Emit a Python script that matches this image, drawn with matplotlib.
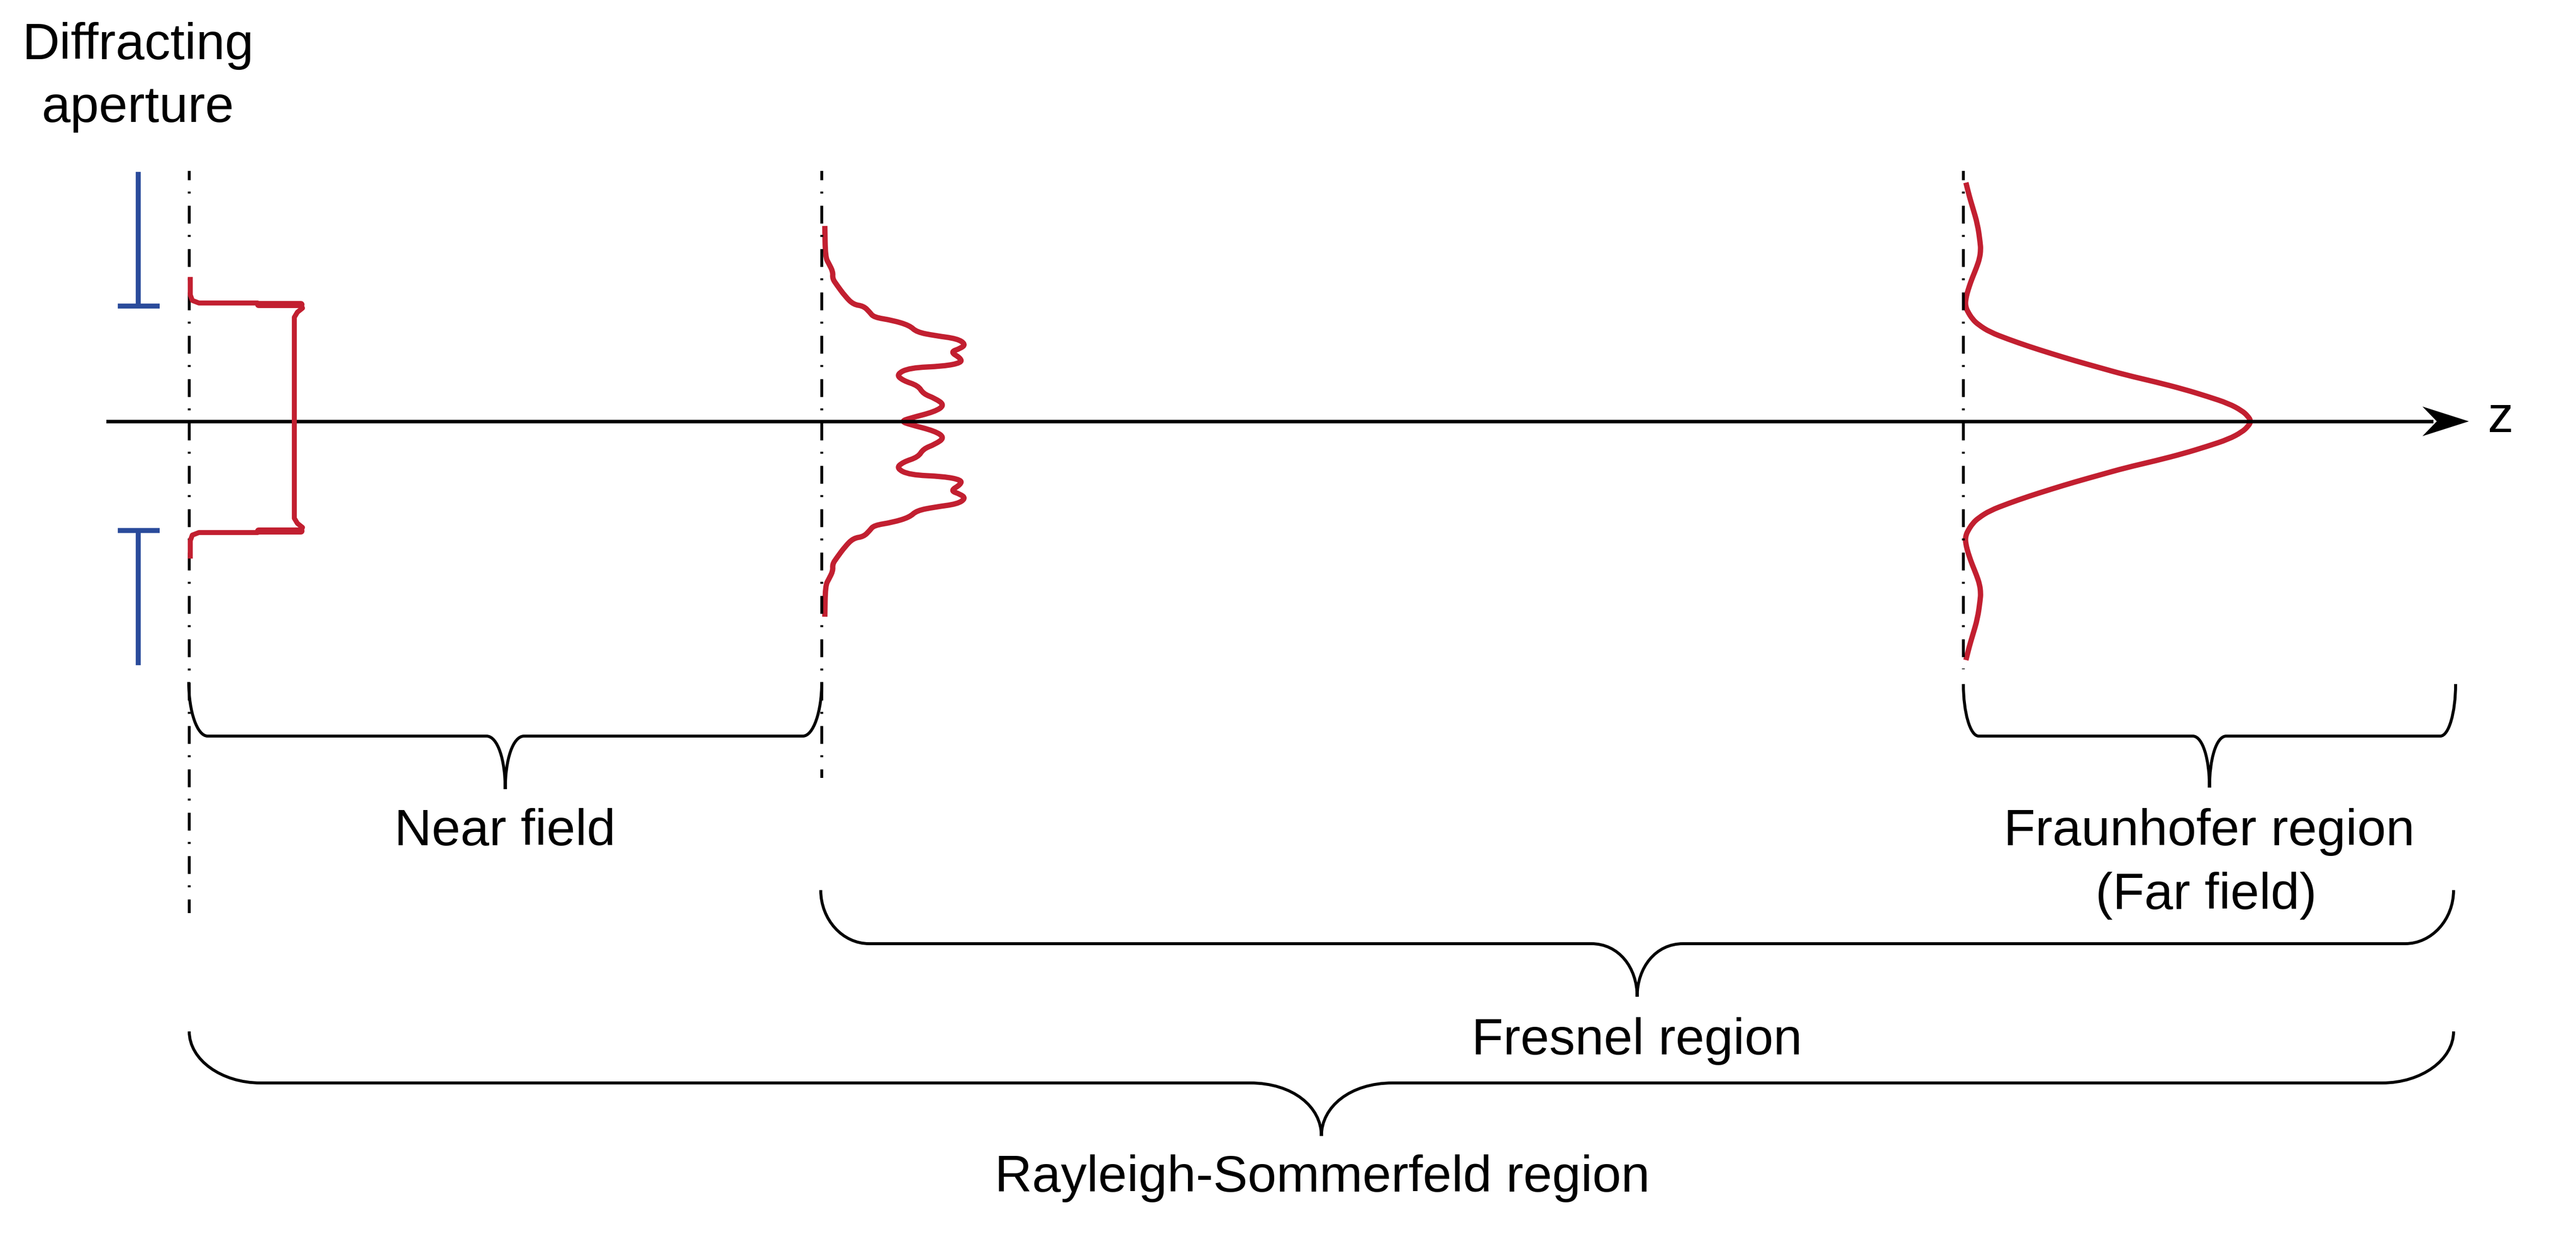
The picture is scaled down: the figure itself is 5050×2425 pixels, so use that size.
import matplotlib
matplotlib.use('Agg')
import matplotlib.pyplot as plt
from matplotlib.path import Path
from matplotlib.patches import PathPatch, Polygon

plt.rcParams['font.family'] = ['Liberation Sans', 'DejaVu Sans']

RED = '#C21F30'
BLUE = '#2A4B9B'
FS = 73

# positions along z (px in the 5050x2425 picture)
z_aperture = 371
z_fresnel = 1611
z_far = 3849
axis_y = 826

# aperture edges (blue stops)
aperture_edges = [600, 1040]
stop_top = 337
stop_bottom = 1304

# near-field profile (amplitude, position)
near_x = [373, 373, 377, 390, 505, 512, 590, 593, 583, 577, 577, 583, 593, 590, 512, 505, 390, 377, 373, 373]
near_y = [543, 578, 589, 594, 594, 598, 598, 604, 612, 622, 1016, 1026, 1034, 1040, 1040, 1044, 1044, 1049, 1060, 1095]

# Fresnel profile
fresnel_x = [1617, 1618, 1625, 1633, 1632, 1640, 1657, 1673, 1693, 1705, 1713, 1750, 1783, 1797, 1833, 1877,
             1893, 1883, 1863, 1883, 1885, 1850, 1783, 1757, 1770, 1800, 1810, 1833, 1852, 1833, 1783, 1767,
             1783, 1833, 1852, 1833, 1810, 1800, 1770, 1757, 1783, 1850, 1885, 1883, 1863, 1883, 1893,
             1877, 1833, 1797, 1783, 1750, 1713, 1705, 1693, 1673, 1657, 1640, 1632, 1633, 1625, 1618, 1617]
fresnel_y = [443, 504, 517, 533, 546, 558, 581, 597, 600, 612, 622, 628, 638, 651, 658, 664,
             675, 683, 690, 702, 711, 718, 721, 734, 746, 756, 772, 781, 794, 807, 820, 826,
             832, 845, 858, 871, 880, 896, 906, 918, 931, 934, 941, 950, 962, 969, 977,
             988, 994, 1001, 1014, 1024, 1030, 1040, 1052, 1055, 1071, 1094, 1106, 1119, 1135, 1148, 1209]

# Fraunhofer profile: offset from centre line, amplitude
far_dy = [-468, -440, -420, -386, -350, -337, -320, -302, -280, -266, -250, -240, -232, -224, -216, -200, -189, -175,
          -161, -147, -133, -119, -105, -91, -77, -63, -49, -35, -21, -10, 0,
          10, 21, 35, 49, 63, 77, 91, 105, 119, 133, 147, 161, 175, 189, 200, 216, 224, 232, 240,
          250, 266, 280, 302, 320, 337, 350, 386, 420, 440, 468]
far_amp = [5, 12, 18, 28, 33, 34, 32, 26, 17, 12, 7, 5, 4, 5, 8, 18, 30, 52,
           88, 128, 172, 218, 268, 318, 378, 432, 478, 520, 546, 558, 564,
           558, 546, 520, 478, 432, 378, 318, 268, 218, 172, 128, 88, 52, 30, 18, 8, 5, 4, 5,
           7, 12, 17, 26, 32, 34, 33, 28, 18, 12, 5]

# braces: left, right, top, bar, tip, corner width, cusp half width
braces = {
    'near': (370, 1611, 1337, 1443, 1547, 37, 37),
    'far': (3849, 4814, 1341, 1443, 1544, 30, 33),
    'fresnel': (1609, 4810, 1745, 1850, 1954, 95, 90),
    'rayleigh': (371, 4810, 2022, 2123, 2227, 140, 140),
}

labels = [
    ('Diffracting', 271, 116),
    ('aperture', 271, 239),
    ('Near field', 990, 1657),
    ('Fraunhofer region', 4331, 1657),
    ('(Far field)', 4325, 1782),
    ('Fresnel region', 3209, 2067),
    ('Rayleigh-Sommerfeld region', 2592, 2336),
    ('z', 4902, 847),
]


def brace_path(x0, x1, ytop, ybar, ytip, cw, hw):
    xm = (x0 + x1) / 2
    hb = ybar - ytop
    ht = ytip - ybar
    verts = [
        (x0, ytop), (x0, ytop + 0.55 * hb), (x0 + 0.45 * cw, ybar), (x0 + cw, ybar),
        (xm - hw, ybar),
        (xm - 0.4 * hw, ybar), (xm, ybar + 0.45 * ht), (xm, ytip),
        (xm, ybar + 0.45 * ht), (xm + 0.4 * hw, ybar), (xm + hw, ybar),
        (x1 - cw, ybar),
        (x1 - 0.45 * cw, ybar), (x1, ytop + 0.55 * hb), (x1, ytop),
    ]
    codes = [Path.MOVETO, Path.CURVE4, Path.CURVE4, Path.CURVE4,
             Path.LINETO,
             Path.CURVE4, Path.CURVE4, Path.CURVE4,
             Path.CURVE4, Path.CURVE4, Path.CURVE4,
             Path.LINETO,
             Path.CURVE4, Path.CURVE4, Path.CURVE4]
    return Path(verts, codes)


def smooth_path(xs, ys):
    # quadratic bezier through the midpoints, so the curve has no corners
    pts = list(zip(xs, ys))
    verts = [pts[0], ((pts[0][0] + pts[1][0]) / 2, (pts[0][1] + pts[1][1]) / 2)]
    codes = [Path.MOVETO, Path.LINETO]
    for i in range(1, len(pts) - 1):
        mid = ((pts[i][0] + pts[i + 1][0]) / 2, (pts[i][1] + pts[i + 1][1]) / 2)
        verts += [pts[i], mid]
        codes += [Path.CURVE3, Path.CURVE3]
    verts.append(pts[-1])
    codes.append(Path.LINETO)
    return Path(verts, codes)


fig = plt.figure(figsize=(50.5, 24.25), dpi=100)
ax = fig.add_axes([0, 0, 1, 1])
ax.set_xlim(0, 5050)
ax.set_ylim(2425, 0)
ax.axis('off')

# dash-dot planes
dashdot = (3, (6.3, 4.0, 0.7, 4.3))
ax.plot([z_aperture, z_aperture], [335, 1790], color='black', lw=4, ls=dashdot, dash_capstyle='butt')
ax.plot([z_fresnel, z_fresnel], [335, 1525], color='black', lw=4, ls=dashdot, dash_capstyle='butt')
ax.plot([z_far, z_far], [335, 1312], color='black', lw=4, ls=dashdot, dash_capstyle='butt')

# optical axis with arrow
ax.plot([208, 4770], [axis_y, axis_y], color='black', lw=5, solid_capstyle='butt')
ax.add_patch(Polygon([(4840, axis_y), (4749, axis_y - 29), (4777, axis_y), (4749, axis_y + 29)],
                     closed=True, color='black', lw=0))

# aperture stops
ax.plot([271, 271], [stop_top, aperture_edges[0]], color=BLUE, lw=7, solid_capstyle='butt')
ax.plot([271, 271], [aperture_edges[1], stop_bottom], color=BLUE, lw=7, solid_capstyle='butt')
for ye in aperture_edges:
    ax.plot([231, 313], [ye, ye], color=BLUE, lw=7, solid_capstyle='butt')

# profiles
ax.plot(near_x, near_y, color=RED, lw=7, solid_joinstyle='round', solid_capstyle='butt')
ax.plot([507, 590], [597, 597], color=RED, lw=10, solid_capstyle='round')
ax.plot([507, 590], [1041, 1041], color=RED, lw=10, solid_capstyle='round')
ax.add_patch(PathPatch(smooth_path(fresnel_x, fresnel_y), facecolor='none', edgecolor=RED,
                       lw=7.5, joinstyle='round', capstyle='butt'))
ax.add_patch(PathPatch(smooth_path([z_far + a for a in far_amp], [axis_y + d for d in far_dy]),
                       facecolor='none', edgecolor=RED, lw=7.5, joinstyle='round', capstyle='butt'))

# braces
for name, b in braces.items():
    ax.add_patch(PathPatch(brace_path(*b), facecolor='none', edgecolor='black', lw=4.2))

for text, x, y in labels:
    ax.text(x, y, text, ha='center', va='baseline', fontsize=FS, color='black')

fig.savefig('out.png', dpi=100, facecolor='white')
